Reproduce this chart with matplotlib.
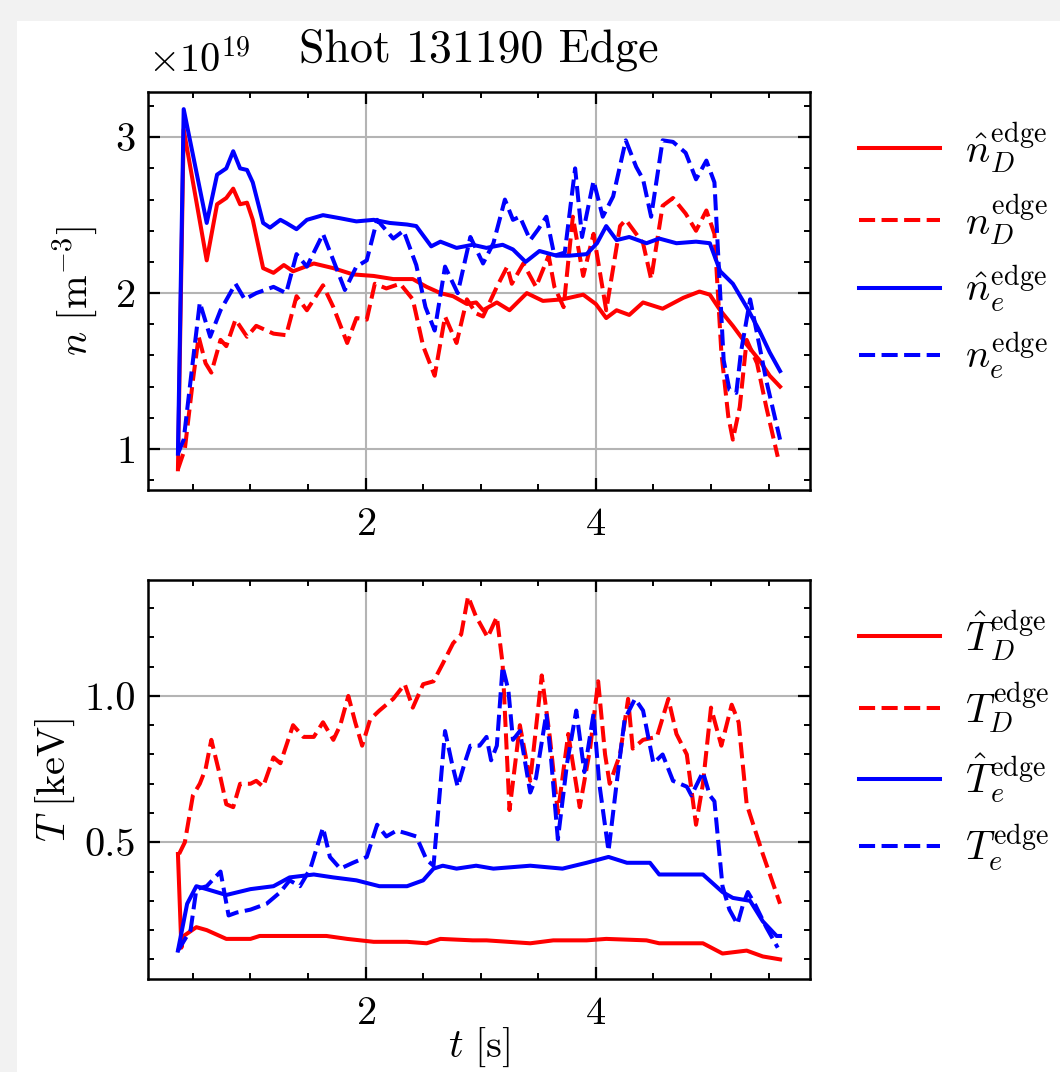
import matplotlib
matplotlib.use("Agg")
import matplotlib.pyplot as plt
from matplotlib.ticker import MultipleLocator, FormatStrFormatter
from matplotlib.patches import Rectangle

# ---- data (density in units of 1e19 m^-3, temperature in keV, time in s) ----
t_nD_hat = [0.37, 0.42, 0.62, 0.71, 0.79, 0.85, 0.91, 0.97, 1.02, 1.11, 1.20, 1.29, 1.37, 1.55,
            1.72, 1.89, 2.07, 2.24, 2.41, 2.53, 2.65, 2.76, 2.88, 2.96, 3.02, 3.14, 3.25, 3.40,
            3.54, 3.71, 3.89, 4.00, 4.09, 4.18, 4.29, 4.41, 4.58, 4.76, 4.90, 4.99, 5.08, 5.19,
            5.31, 5.42, 5.51, 5.60]
nD_hat = [0.87, 3.05, 2.21, 2.57, 2.61, 2.67, 2.57, 2.58, 2.47, 2.16, 2.13, 2.18, 2.14, 2.19,
          2.16, 2.12, 2.11, 2.09, 2.09, 2.04, 2.00, 1.98, 1.93, 1.94, 1.89, 1.94, 1.89, 2.00,
          1.95, 1.96, 1.99, 1.93, 1.84, 1.89, 1.86, 1.94, 1.90, 1.97, 2.01, 1.99, 1.89, 1.79,
          1.67, 1.57, 1.47, 1.40]

t_nD = [0.37, 0.43, 0.50, 0.55, 0.61, 0.66, 0.74, 0.79, 0.87, 0.97, 1.05, 1.20, 1.31, 1.40,
        1.49, 1.63, 1.72, 1.84, 1.92, 2.01, 2.08, 2.18, 2.30, 2.41, 2.50, 2.60, 2.69, 2.79,
        2.88, 2.96, 3.02, 3.14, 3.23, 3.27, 3.37, 3.48, 3.59, 3.64, 3.72, 3.80, 3.89, 3.98,
        4.09, 4.21, 4.26, 4.35, 4.41, 4.48, 4.58, 4.67, 4.78, 4.87, 4.96, 5.03, 5.09, 5.15,
        5.19, 5.25, 5.31, 5.40, 5.48, 5.58]
nD = [0.87, 1.00, 1.44, 1.72, 1.55, 1.49, 1.70, 1.66, 1.83, 1.72, 1.79, 1.74, 1.73, 1.98,
      1.89, 2.05, 1.91, 1.68, 1.84, 1.83, 2.06, 2.03, 2.06, 1.96, 1.66, 1.47, 1.85, 1.68,
      1.96, 1.87, 1.85, 2.04, 2.17, 2.06, 2.19, 2.04, 2.24, 2.04, 1.91, 2.49, 2.11, 2.38,
      1.89, 2.43, 2.47, 2.38, 2.32, 2.09, 2.56, 2.61, 2.51, 2.40, 2.53, 2.38, 1.62, 1.21,
      1.06, 1.27, 1.70, 1.55, 1.27, 0.95]

t_ne_hat = [0.37, 0.42, 0.62, 0.71, 0.79, 0.85, 0.91, 0.97, 1.02, 1.11, 1.17, 1.26, 1.31, 1.40,
            1.49, 1.63, 1.78, 1.92, 2.07, 2.21, 2.36, 2.44, 2.50, 2.57, 2.65, 2.79, 2.93, 3.05,
            3.19, 3.28, 3.39, 3.51, 3.66, 3.77, 3.92, 4.01, 4.09, 4.18, 4.29, 4.44, 4.55, 4.70,
            4.87, 4.99, 5.08, 5.19, 5.31, 5.42, 5.51, 5.60]
ne_hat = [0.97, 3.18, 2.45, 2.76, 2.80, 2.91, 2.80, 2.79, 2.71, 2.45, 2.42, 2.47, 2.45, 2.41,
          2.47, 2.50, 2.48, 2.46, 2.47, 2.45, 2.44, 2.43, 2.37, 2.30, 2.33, 2.29, 2.31, 2.29,
          2.31, 2.28, 2.20, 2.27, 2.24, 2.24, 2.25, 2.32, 2.43, 2.34, 2.36, 2.32, 2.35, 2.32,
          2.33, 2.32, 2.14, 2.06, 1.91, 1.76, 1.62, 1.50]

t_ne = [0.37, 0.42, 0.48, 0.56, 0.65, 0.74, 0.87, 0.95, 1.05, 1.20, 1.31, 1.40, 1.49, 1.63,
        1.72, 1.82, 1.92, 2.01, 2.10, 2.24, 2.33, 2.44, 2.52, 2.60, 2.69, 2.80, 2.91, 3.02,
        3.11, 3.21, 3.28, 3.34, 3.43, 3.50, 3.57, 3.64, 3.73, 3.82, 3.88, 3.98, 4.06, 4.15,
        4.26, 4.35, 4.41, 4.48, 4.58, 4.67, 4.78, 4.87, 4.96, 5.03, 5.11, 5.16, 5.22, 5.26,
        5.34, 5.40, 5.48, 5.60]
ne = [0.97, 1.06, 1.44, 1.94, 1.72, 1.89, 2.06, 1.96, 2.00, 2.04, 2.00, 2.25, 2.17, 2.38,
      2.21, 2.02, 2.17, 2.21, 2.47, 2.35, 2.40, 2.18, 1.91, 1.76, 2.17, 2.00, 2.36, 2.19,
      2.32, 2.60, 2.47, 2.49, 2.34, 2.41, 2.49, 2.24, 2.26, 2.80, 2.36, 2.72, 2.49, 2.62,
      2.98, 2.81, 2.73, 2.49, 2.98, 2.97, 2.90, 2.73, 2.85, 2.71, 1.57, 1.38, 1.36, 1.62,
      1.96, 1.74, 1.44, 1.06]

t_TD_hat = [0.37, 0.40, 0.42, 0.53, 0.62, 0.79, 1.00, 1.08, 1.26, 1.49, 1.66, 1.84, 2.07, 2.36,
            2.53, 2.65, 2.93, 3.05, 3.43, 3.63, 3.92, 4.09, 4.44, 4.55, 4.93, 5.10, 5.31, 5.45,
            5.60]
TD_hat = [0.46, 0.14, 0.18, 0.21, 0.20, 0.17, 0.17, 0.18, 0.18, 0.18, 0.18, 0.17, 0.16, 0.16,
          0.155, 0.17, 0.165, 0.165, 0.155, 0.165, 0.165, 0.17, 0.165, 0.155, 0.155, 0.12, 0.13,
          0.11, 0.10]

t_TD = [0.38, 0.43, 0.50, 0.56, 0.61, 0.66, 0.74, 0.79, 0.85, 0.91, 1.00, 1.05, 1.11, 1.20,
        1.26, 1.37, 1.46, 1.55, 1.63, 1.72, 1.78, 1.85, 1.91, 1.97, 2.04, 2.12, 2.24, 2.34,
        2.41, 2.50, 2.59, 2.67, 2.76, 2.83, 2.89, 2.96, 2.99, 3.06, 3.14, 3.19, 3.25, 3.34,
        3.43, 3.53, 3.60, 3.67, 3.76, 3.86, 3.95, 4.02, 4.08, 4.12, 4.21, 4.28, 4.32, 4.41,
        4.53, 4.63, 4.70, 4.79, 4.87, 4.93, 5.00, 5.09, 5.18, 5.24, 5.31, 5.45, 5.60]
TD = [0.46, 0.50, 0.66, 0.70, 0.75, 0.85, 0.72, 0.63, 0.62, 0.70, 0.70, 0.71, 0.69, 0.79,
      0.77, 0.90, 0.86, 0.86, 0.91, 0.85, 0.90, 1.00, 0.91, 0.83, 0.92, 0.95, 0.99, 1.04,
      0.96, 1.04, 1.05, 1.11, 1.18, 1.21, 1.34, 1.27, 1.25, 1.20, 1.27, 1.11, 0.61, 0.90,
      0.71, 1.07, 0.86, 0.60, 0.87, 0.62, 0.82, 1.05, 0.80, 0.70, 0.80, 0.99, 0.82, 0.85,
      0.86, 0.99, 0.87, 0.80, 0.56, 0.70, 0.96, 0.83, 0.97, 0.91, 0.63, 0.46, 0.29]

t_Te_hat = [0.37, 0.45, 0.53, 0.62, 0.79, 1.00, 1.20, 1.34, 1.55, 1.72, 1.92, 2.12, 2.36, 2.50,
            2.59, 2.67, 2.79, 2.96, 3.11, 3.43, 3.71, 3.92, 4.11, 4.27, 4.47, 4.55, 4.70, 4.93,
            5.10, 5.19, 5.34, 5.45, 5.57, 5.60]
Te_hat = [0.13, 0.29, 0.35, 0.34, 0.32, 0.34, 0.35, 0.38, 0.39, 0.38, 0.37, 0.35, 0.35, 0.37,
          0.41, 0.42, 0.41, 0.42, 0.41, 0.42, 0.41, 0.43, 0.45, 0.43, 0.43, 0.39, 0.39, 0.39,
          0.33, 0.31, 0.30, 0.23, 0.18, 0.18]

t_Te = [0.37, 0.48, 0.53, 0.62, 0.74, 0.81, 0.88, 1.00, 1.14, 1.26, 1.34, 1.43, 1.52, 1.63,
        1.69, 1.78, 1.89, 2.01, 2.10, 2.18, 2.27, 2.36, 2.44, 2.53, 2.59, 2.69, 2.75, 2.80,
        2.86, 2.91, 2.99, 3.05, 3.09, 3.14, 3.19, 3.24, 3.28, 3.34, 3.43, 3.48, 3.57, 3.61,
        3.67, 3.75, 3.83, 3.90, 3.98, 4.03, 4.11, 4.18, 4.25, 4.34, 4.41, 4.50, 4.58, 4.67,
        4.79, 4.83, 4.93, 4.99, 5.03, 5.10, 5.16, 5.23, 5.28, 5.32, 5.38, 5.48, 5.58]
Te = [0.13, 0.20, 0.34, 0.35, 0.40, 0.25, 0.26, 0.27, 0.29, 0.33, 0.37, 0.35, 0.41, 0.55,
      0.45, 0.41, 0.43, 0.45, 0.56, 0.52, 0.54, 0.53, 0.52, 0.44, 0.42, 0.88, 0.77, 0.69,
      0.77, 0.83, 0.83, 0.86, 0.78, 0.83, 1.10, 1.02, 0.85, 0.88, 0.67, 0.72, 0.94, 0.79,
      0.51, 0.77, 0.95, 0.74, 0.94, 0.70, 0.47, 0.70, 0.92, 0.99, 0.95, 0.77, 0.80, 0.71,
      0.69, 0.66, 0.74, 0.66, 0.64, 0.35, 0.27, 0.22, 0.29, 0.33, 0.29, 0.21, 0.14]

labels_n = [r"$\hat{n}_D^{\mathrm{edge}}$", r"$n_D^{\mathrm{edge}}$",
            r"$\hat{n}_e^{\mathrm{edge}}$", r"$n_e^{\mathrm{edge}}$"]
labels_T = [r"$\hat{T}_D^{\mathrm{edge}}$", r"$T_D^{\mathrm{edge}}$",
            r"$\hat{T}_e^{\mathrm{edge}}$", r"$T_e^{\mathrm{edge}}$"]

# ---- style ----
plt.rcParams.update({
    "font.family": "serif",
    "font.serif": ["cmr10", "DejaVu Serif"],
    "mathtext.fontset": "cm",
    "axes.formatter.use_mathtext": True,
    "font.size": 29,
    "axes.linewidth": 1.8,
    "xtick.direction": "in",
    "ytick.direction": "in",
    "xtick.top": True,
    "ytick.right": True,
    "xtick.major.size": 8.5,
    "ytick.major.size": 8.5,
    "xtick.minor.size": 4.3,
    "ytick.minor.size": 4.3,
    "xtick.major.width": 1.6,
    "ytick.major.width": 1.6,
    "xtick.minor.width": 1.4,
    "ytick.minor.width": 1.4,
    "xtick.major.pad": 12,
    "ytick.major.pad": 9,
})

W, H = 1060, 1072
fig = plt.figure(figsize=(W / 100, H / 100), dpi=100, facecolor="#f2f2f2")
# white page area behind the plots
fig.add_artist(Rectangle((17 / W, 0), 1, 1 - 21 / H, transform=fig.transFigure,
                         facecolor="white", edgecolor="none", zorder=-10))

ax1 = fig.add_axes([148 / W, 1 - 490 / H, 662 / W, 398 / H])
ax2 = fig.add_axes([148 / W, 1 - 979 / H, 662 / W, 399 / H])

lw = 2.9
dash = (4.0, 1.6)
RED, BLUE = "#ff0000", "#0000ff"

ax1.plot(t_nD_hat, nD_hat, color=RED, lw=lw, label=labels_n[0])
ax1.plot(t_nD, nD, color=RED, lw=lw, ls=(0, dash), label=labels_n[1])
ax1.plot(t_ne_hat, ne_hat, color=BLUE, lw=lw, label=labels_n[2])
ax1.plot(t_ne, ne, color=BLUE, lw=lw, ls=(0, dash), label=labels_n[3])

ax2.plot(t_TD_hat, TD_hat, color=RED, lw=lw, label=labels_T[0])
ax2.plot(t_TD, TD, color=RED, lw=lw, ls=(0, dash), label=labels_T[1])
ax2.plot(t_Te_hat, Te_hat, color=BLUE, lw=lw, label=labels_T[2])
ax2.plot(t_Te, Te, color=BLUE, lw=lw, ls=(0, dash), label=labels_T[3])

for ax in (ax1, ax2):
    ax.set_facecolor("white")
    ax.set_xlim(0.11, 5.86)
    ax.xaxis.set_major_locator(MultipleLocator(2))
    ax.xaxis.set_minor_locator(MultipleLocator(0.5))
    ax.grid(True, which="major", color="#b4b4b4", lw=1.5)
    ax.set_axisbelow(True)
    ax.legend(loc="upper left", bbox_to_anchor=(1.05, 0.97), frameon=False,
              handlelength=2.0, handletextpad=0.62, labelspacing=0.43,
              borderaxespad=0, fontsize=29)

ax1.set_ylim(0.737, 3.29)
ax1.yaxis.set_major_locator(MultipleLocator(1))
ax1.yaxis.set_minor_locator(MultipleLocator(0.2))
ax1.set_ylabel(r"$n\ [\mathrm{m}^{-3}]$", labelpad=11)
ax1.set_title("Shot 131190 Edge", fontsize=33, pad=22)
ax1.text(0.0, 1.03, r"$\times10^{19}$", transform=ax1.transAxes, ha="left", va="bottom",
         fontsize=29)

ax2.set_ylim(0.033, 1.396)
ax2.yaxis.set_major_locator(MultipleLocator(0.5))
ax2.yaxis.set_minor_locator(MultipleLocator(0.1))
ax2.yaxis.set_major_formatter(FormatStrFormatter("%.1f"))
ax2.set_ylabel(r"$T\ [\mathrm{keV}]$", labelpad=5)
ax2.set_xlabel(r"$t\ [\mathrm{s}]$", labelpad=-4)

fig.savefig("out.png", dpi=100, facecolor=fig.get_facecolor())
